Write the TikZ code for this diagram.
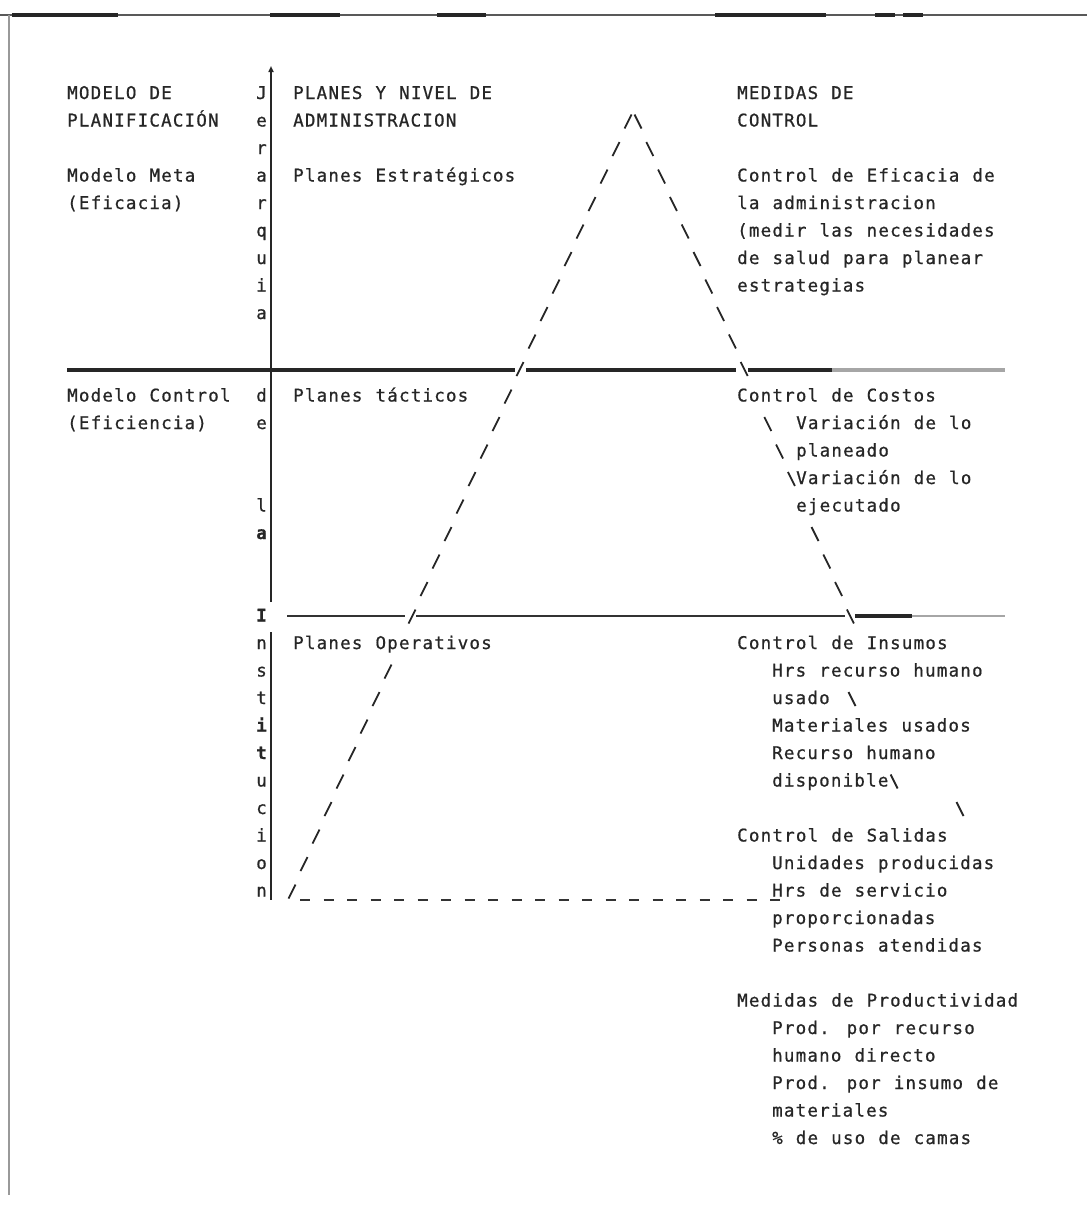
\documentclass[tikz,border=0pt]{standalone}
\usepackage{fontspec}
\newfontfamily\maquina[LetterSpace=6.9, WordSpace={1.114}, FakeBold=0.8]{DejaVu Sans Mono}
\usetikzlibrary{arrows.meta}

\tikzset{
  txt/.style={anchor=base west, inner sep=0pt, text=black!85,
    font=\maquina\fontsize{17.5}{21}\selectfont},
  letra/.style={txt, anchor=base east},
  trazo/.style={line width=1.8pt, black!85},
  sepgruesa/.style={line width=3.2pt, black!85},
  sepfina/.style={line width=1.4pt, black!80},
  marco/.style={line width=1.2pt, black!40}
}

\begin{document}
\begin{tikzpicture}[x=1pt,y=-1pt]
  \useasboundingbox (0,0) rectangle (1087,1205);

  % Marco de la hoja
  \draw[marco, line width=1.8pt, black!65] (0,15) -- (1087,15);
  \foreach \a/\b in {12/118, 270/340, 437/486, 715/826, 875/895, 903/923}
    \draw[sepgruesa] (\a,15) -- (\b,15);
  \draw[marco] (9,15) -- (9,1195);

  % Eje de la jerarquia
  \draw[line width=1.8pt, black!85, -{Triangle[width=5pt,length=6pt]}] (271,602) -- (271,66);
  \draw[line width=1.8pt, black!85] (271,632) -- (271,900);
  \foreach \r/\l in {0/J, 1/e, 2/r, 3/a, 4/r, 5/q, 6/u, 7/i, 8/a, 11/d, 12/e, 15/l,
      16/\bfseries a, 19/\bfseries I, 20/n, 21/s, 22/t, 23/\bfseries i, 24/\bfseries t,
      25/u, 26/c, 27/i, 28/o, 29/n}
    \node[letra] (jer\r) at (267,{99+27.5*\r}) {\l};

  % Separaciones de niveles
  \draw[sepgruesa] (67,370) -- (515,370);
  \draw[sepgruesa] (526,370) -- (736,370);
  \draw[sepgruesa] (748,370) -- (832,370);
  \draw[sepgruesa, black!35] (832,370) -- (1005,370);
  \draw[sepfina] (287,616) -- (405,616);
  \draw[sepfina] (416,616) -- (845,616);
  \draw[sepgruesa] (855,616) -- (912,616);
  \draw[sepfina, black!35] (912,616) -- (1005,616);

  % Triangulo
  \foreach \r in {1,...,19,21,22,23,24,25,26,27,28,29}
    \draw[trazo] ({628-12*(\r-1)-3.5},{94+27.5*\r+7}) -- ++(7,-14);
  \foreach \r in {1,...,10,12,13,14,16,17,18,19}
    \draw[trazo] ({638+11.8*(\r-1)-3.5},{94+27.5*\r-7}) -- ++(7,14);
  \foreach \x/\r in {852/22, 960/26}
    \draw[trazo] ({\x-3.5},{94+27.5*\r-7}) -- ++(7,14);
  \draw[line width=2.2pt, black!80, dash pattern=on 10pt off 13.5pt] (300,900) -- (785,900);

  % Modelo de planificacion
  \foreach \r/\t in {0/MODELO DE, 1/PLANIFICACIÓN, 3/Modelo Meta, 4/(Eficacia),
      11/Modelo Control, 12/(Eficiencia)}
    \node[txt] (mod\r) at (67,{99+27.5*\r}) {\t};

  % Planes y nivel de administracion
  \foreach \r/\t in {0/PLANES Y NIVEL DE, 1/ADMINISTRACION, 3/Planes Estratégicos,
      11/Planes tácticos, 20/Planes Operativos}
    \node[txt] (plan\r) at (293,{99+27.5*\r}) {\t};

  % Medidas de control
  \foreach \r/\t in {0/MEDIDAS DE, 1/CONTROL, 3/Control de Eficacia de,
      4/la administracion, 5/(medir las necesidades, 6/de salud para planear,
      7/estrategias, 11/Control de Costos, 20/Control de Insumos,
      27/Control de Salidas, 33/Medidas de Productividad}
    \node[txt] (med\r) at (737,{99+27.5*\r}) {\t};
  \foreach \r/\t in {12/Variación de lo, 13/planeado, 14/Variación de lo, 15/ejecutado}
    \node[txt] (cos\r) at (796,{99+27.5*\r}) {\t};
  \foreach \r/\t in {21/Hrs recurso humano, 22/usado, 23/Materiales usados,
      24/Recurso humano, 25/disponible, 28/Unidades producidas, 29/Hrs de servicio,
      30/proporcionadas, 31/Personas atendidas, 34/Prod. por recurso,
      35/humano directo, 36/Prod. por insumo de, 37/materiales, 38/\% de uso de camas}
    \node[txt] (sub\r) at (772,{99+27.5*\r}) {\t};
  \draw[trazo] ([xshift=2pt,yshift=12pt]sub25.base east) -- ++(7,14);
\end{tikzpicture}
\end{document}
